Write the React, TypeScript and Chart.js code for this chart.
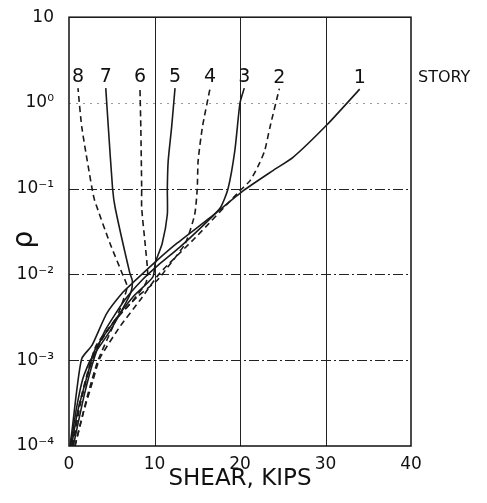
import React, { useEffect, useRef } from 'react';
import { Chart, registerables } from 'chart.js';
Chart.register(...registerables);

const FONT = "'DejaVu Sans', sans-serif";

const shearTicks = [0, 10, 20, 30, 40];
const rhoTicks = [1e-4, 1e-3, 1e-2, 1e-1, 1, 10];
const rhoTickLabels = ['10⁻⁴', '10⁻³', '10⁻²', '10⁻¹', '10⁰', '10'];
const storyLabels = ['1', '2', '3', '4', '5', '6', '7', '8'];
const storyDashed = [false, true, false, true, false, true, false, true];

const story1Shear = [0.1, 0.35, 0.9, 1.5, 2.7, 4.4, 6.3, 7.4, 10.3, 12.6, 16.5, 20.4, 23.9, 26.2, 30.2, 34.0];
const story1Rho = [1e-4, 1.5e-4, 4.4e-4, 1.05e-3, 1.5e-3, 3.5e-3, 6.2e-3, 7.9e-3, 1.46e-2, 2.3e-2, 0.046, 0.095, 0.164, 0.232, 0.56, 1.45];
const story2Shear = [0.7, 1.6, 2.8, 3.6, 6.0, 8.3, 10.6, 14.8, 20.0, 21.2, 22.3, 22.9, 23.5, 24.6];
const story2Rho = [1e-4, 2.3e-4, 5.8e-4, 1.05e-3, 2.5e-3, 5e-3, 1.03e-2, 0.027, 0.095, 0.125, 0.2, 0.28, 0.52, 1.47];
const story3Shear = [0.5, 1.8, 3.0, 4.2, 6.5, 8.5, 10.5, 13.0, 16.0, 17.7, 18.6, 19.4, 20.0, 20.5];
const story3Rho = [1e-4, 4e-4, 1.1e-3, 2.2e-3, 5e-3, 8.5e-3, 1.3e-2, 0.021, 0.04, 0.06, 0.1, 0.28, 1.0, 1.49];
const story4Shear = [0.4, 1.2, 2.3, 3.2, 5.5, 8.0, 10.3, 11.5, 13.6, 14.7, 15.0, 15.1, 15.6, 16.5];
const story4Rho = [1e-4, 3e-4, 8e-4, 1.5e-3, 3e-3, 5.5e-3, 8.5e-3, 0.012, 0.023, 0.05, 0.1, 0.21, 0.52, 1.49];
const story5Shear = [0.3, 1.0, 2.2, 3.0, 5.0, 7.5, 9.8, 10.1, 10.9, 11.5, 11.5, 11.6, 12.0, 12.4];
const story5Rho = [1e-4, 2.5e-4, 7e-4, 1.3e-3, 2.6e-3, 5.5e-3, 9.3e-3, 0.0138, 0.023, 0.05, 0.1, 0.21, 0.52, 1.49];
const story6Shear = [0.45, 1.3, 2.4, 3.3, 5.2, 7.5, 9.0, 9.2, 8.9, 8.5, 8.5, 8.4, 8.3];
const story6Rho = [1e-4, 3e-4, 8e-4, 1.4e-3, 2.8e-3, 5e-3, 8e-3, 0.0105, 0.023, 0.06, 0.1, 0.52, 1.49];
const story7Shear = [0.2, 0.8, 1.6, 2.5, 4.8, 6.8, 7.3, 7.4, 7.1, 5.4, 5.1, 4.6, 4.3];
const story7Rho = [1e-4, 2.5e-4, 6e-4, 1e-3, 2.2e-3, 5e-3, 6.5e-3, 8.5e-3, 0.0105, 0.06, 0.1, 0.52, 1.49];
const story8Shear = [0.7, 1.6, 2.2, 3.4, 5.5, 6.8, 6.3, 4.8, 3.0, 2.7, 1.5, 1.05];
const story8Rho = [1e-4, 2.3e-4, 4e-4, 1e-3, 3e-3, 7.1e-3, 9.8e-3, 0.023, 0.073, 0.1, 0.52, 1.49];

const storyShears = [story1Shear, story2Shear, story3Shear, story4Shear, story5Shear, story6Shear, story7Shear, story8Shear];
const storyRhos = [story1Rho, story2Rho, story3Rho, story4Rho, story5Rho, story6Rho, story7Rho, story8Rho];

export default function App() {
  const ref = useRef<HTMLCanvasElement>(null);
  useEffect(() => {
    document.body.style.margin = '0';
    document.body.style.background = '#fff';
    const canvas = ref.current;
    if (!canvas) return;

    const datasets = storyShears.map((xs, i) => ({
      label: storyLabels[i],
      data: xs.map((x, j) => ({ x, y: storyRhos[i][j] })),
      showLine: true,
      borderColor: '#1a1a1a',
      backgroundColor: '#1a1a1a',
      borderWidth: 1.6,
      pointRadius: 0,
      tension: 0.2,
      fill: false,
      borderDash: storyDashed[i] ? [6, 4] : [],
    }));

    const gridPlugin = {
      id: 'customGrid',
      beforeDatasetsDraw(chart: any) {
        const { ctx, chartArea: a, scales } = chart;
        const xs = scales.x;
        const ys = scales.y;
        ctx.save();
        ctx.strokeStyle = '#222';
        ctx.lineWidth = 1;
        ctx.setLineDash([]);
        shearTicks.forEach((v) => {
          if (v <= 0 || v >= 40) return;
          const px = Math.round(xs.getPixelForValue(v)) + 0.5;
          ctx.beginPath();
          ctx.moveTo(px, a.top);
          ctx.lineTo(px, a.bottom);
          ctx.stroke();
        });
        rhoTicks.forEach((v) => {
          if (v <= 1e-4 || v >= 10) return;
          const py = Math.round(ys.getPixelForValue(v)) + 0.5;
          if (v === 1) {
            ctx.strokeStyle = '#9a9a9a';
            ctx.lineWidth = 1;
            ctx.setLineDash([2, 5]);
          } else {
            ctx.strokeStyle = '#222';
            ctx.lineWidth = 1.2;
            ctx.setLineDash([10, 3, 2, 3]);
          }
          ctx.beginPath();
          ctx.moveTo(a.left, py);
          ctx.lineTo(a.right, py);
          ctx.stroke();
        });
        ctx.setLineDash([]);
        ctx.strokeStyle = '#111';
        ctx.lineWidth = 1.5;
        ctx.strokeRect(a.left, a.top, a.right - a.left, a.bottom - a.top);
        ctx.restore();
      },
      afterDatasetsDraw(chart: any) {
        const { ctx, chartArea: a, scales } = chart;
        ctx.save();
        ctx.fillStyle = '#111';
        ctx.font = `19px ${FONT}`;
        ctx.textAlign = 'center';
        ctx.textBaseline = 'middle';
        storyShears.forEach((xs, i) => {
          const lastX = xs[xs.length - 1];
          const lastY = storyRhos[i][storyRhos[i].length - 1];
          const px = scales.x.getPixelForValue(lastX);
          const py = scales.y.getPixelForValue(lastY);
          ctx.fillText(storyLabels[i], px, py - 11);
        });
        ctx.font = `16px ${FONT}`;
        ctx.textAlign = 'left';
        const yTop = scales.y.getPixelForValue(story1Rho[story1Rho.length - 1]);
        ctx.fillText('STORY', a.right + 7, yTop - 11);
        ctx.save();
        ctx.translate(25, (a.top + a.bottom) / 2 + 8);
        ctx.rotate(-Math.PI / 2);
        ctx.font = `28px ${FONT}`;
        ctx.textAlign = 'center';
        ctx.textBaseline = 'middle';
        ctx.fillText('ρ', 0, 0);
        ctx.restore();
        ctx.restore();
      },
    };

    const chart = new Chart(canvas, {
      type: 'scatter',
      data: { datasets: datasets as any },
      options: {
        animation: false,
        responsive: false,
        maintainAspectRatio: false,
        layout: { padding: { left: 0, top: 17, right: 76, bottom: 0 } },
        plugins: { legend: { display: false }, tooltip: { enabled: false } },
        scales: {
          x: {
            type: 'linear',
            min: 0,
            max: 40,
            afterBuildTicks: (scale: any) => {
              scale.ticks = shearTicks.map((v) => ({ value: v }));
            },
            afterFit: (scale: any) => {
              scale.height = 57;
            },
            grid: { display: false },
            border: { display: false },
            ticks: {
              color: '#111',
              font: { family: FONT, size: 17 },
              padding: 0,
              maxRotation: 0,
              callback: (v: any) => String(v),
            },
            title: {
              display: true,
              text: 'SHEAR, KIPS',
              color: '#111',
              font: { family: FONT, size: 23 },
              padding: { top: 0, bottom: 10 },
            },
          },
          y: {
            type: 'logarithmic',
            min: 1e-4,
            max: 10,
            afterBuildTicks: (scale: any) => {
              scale.ticks = rhoTicks.map((v) => ({ value: v }));
            },
            afterFit: (scale: any) => {
              scale.width = 69;
            },
            grid: { display: false },
            border: { display: false },
            ticks: {
              color: '#111',
              font: { family: FONT, size: 17 },
              padding: 7,
              callback: (_v: any, i: number) => rhoTickLabels[i],
            },
          },
        },
      },
      plugins: [gridPlugin],
    });
    return () => chart.destroy();
  }, []);

  return (
    <div style={{ position: 'relative', width: 487, height: 503 }}>
      <canvas ref={ref} width={487} height={503} />
    </div>
  );
}
